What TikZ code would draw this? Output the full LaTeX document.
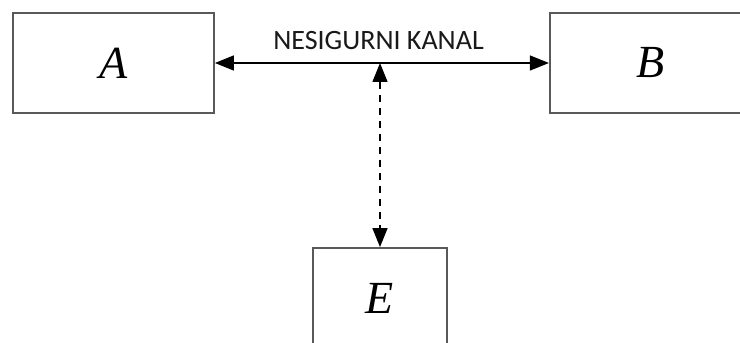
\documentclass[tikz,border=0pt]{standalone}
\usepackage{fontspec}
\newfontfamily\chanfont{Carlito}
\newfontfamily\partyfont{Liberation Serif}
\usetikzlibrary{positioning,arrows.meta,calc}

\begin{document}
\begin{tikzpicture}[x=1pt,y=1pt,
  party/.style={draw=black!65,line width=1.8pt,minimum width=201pt,minimum height=100pt,
    font=\partyfont\fontsize{46}{48}\selectfont\itshape},
  chan/.style={line width=1.4pt,{Triangle[length=19pt,width=15pt]}-{Triangle[length=19pt,width=15pt]}}]

  \useasboundingbox (0,0) rectangle (740,343);
  \clip (0,0) rectangle (740,343);

  \node[party] (A) at (113.5,280) {A};
  \node[party] (B) [right=334pt of A] {B};
  \node[party,minimum width=134pt] (E) at (380,45) {E};

  \coordinate (mid) at (E.north |- A.east);
  \node[font=\chanfont\fontsize{28}{30}\selectfont,text=black!90,anchor=base] (lbl)
    at ([shift={(-1.5,13)}]mid) {NESIGURNI KANAL};

  \draw[chan] (A) -- (B);
  \draw[chan,dash pattern=on 7pt off 6pt] (mid) -- (E.north);

\end{tikzpicture}
\end{document}
